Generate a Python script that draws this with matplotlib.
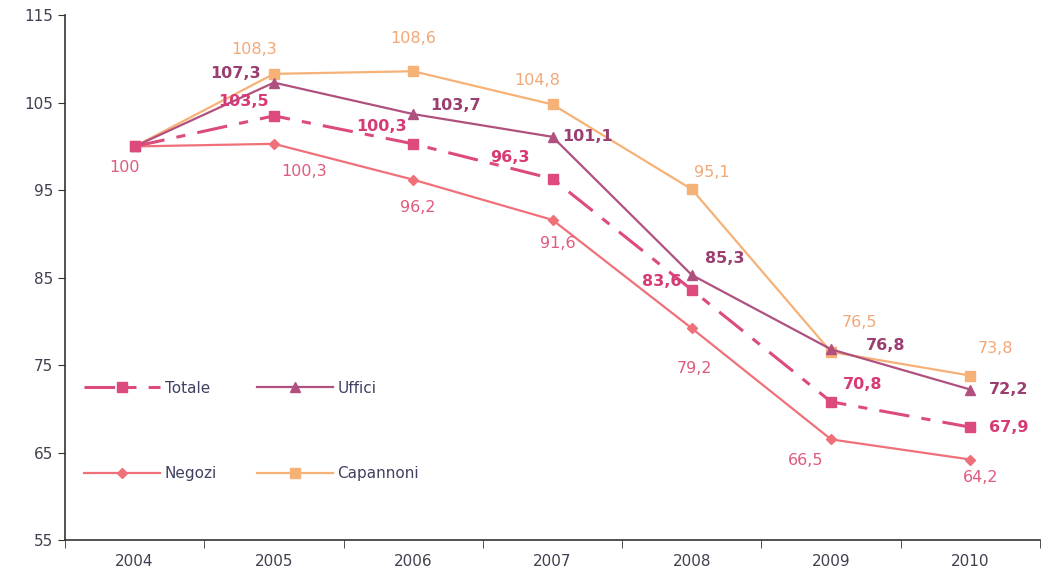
import matplotlib.pyplot as plt
import numpy as np

# Years and index values (2004 = 100)
years = ['2004', '2005', '2006', '2007', '2008', '2009', '2010']
totale = [100, 103.5, 100.3, 96.3, 83.6, 70.8, 67.9]
uffici = [100, 107.3, 103.7, 101.1, 85.3, 76.8, 72.2]
negozi = [100, 100.3, 96.2, 91.6, 79.2, 66.5, 64.2]
capannoni = [100, 108.3, 108.6, 104.8, 95.1, 76.5, 73.8]

# label offsets in pixels (None = no label)
off_totale = [None, (-30, 14), (-32, 17), (-43, 21), (-30, 8), (32, 17), (38, 0)]
off_uffici = [None, (-38, 9), (42, 9), (35, 0), (33, 17), (55, 4), (38, 0)]
off_negozi = [(-10, -21), (30, -28), (5, -28), (5, -24), (3, -40), (-25, -21), (10, -18)]
off_capannoni = [None, (-20, 24), (0, 33), (-15, 24), (20, 17), (28, 29), (25, 27)]

c_tot = '#dc4a7e'
c_uff = '#b0507e'
c_neg = '#f0707a'
c_cap = '#f6b276'

fig = plt.figure(figsize=(10.53, 5.83), dpi=100)
ax = fig.add_axes([0.0617, 0.0738, 0.926, 0.9])

x = np.arange(len(years))

ax.plot(x, negozi, color=c_neg, lw=1.6, marker='D', ms=5, label='Negozi', zorder=2)
ax.plot(x, capannoni, color=c_cap, lw=1.6, marker='s', ms=7, label='Capannoni', zorder=2)
ax.plot(x, uffici, color=c_uff, lw=1.6, marker='^', ms=7, label='Uffici', zorder=3)
ax.plot(x, totale, color=c_tot, lw=2.2, marker='s', ms=7, dashes=(10, 4, 3, 4),
        label='Totale', zorder=4)


def put_labels(vals, offs, color, weight):
    for i, (v, o) in enumerate(zip(vals, offs)):
        if o is None:
            continue
        ax.annotate(f'{v:g}'.replace('.', ','), (i, v), xytext=o,
                    textcoords='offset pixels', ha='center', va='center',
                    color=color, fontsize=11.5, fontweight=weight, zorder=5)


put_labels(negozi, off_negozi, '#e05a7c', 'normal')
put_labels(capannoni, off_capannoni, '#f2a878', 'normal')
put_labels(uffici, off_uffici, '#9a3f70', 'bold')
put_labels(totale, off_totale, '#d83a76', 'bold')

ax.set_xlim(-0.5, 6.5)
ax.set_ylim(55, 115)
ax.set_yticks(range(55, 116, 10))
ax.set_xticks(x)
ax.set_xticklabels(years)
ax.set_xticks(np.arange(-0.5, 7, 1), minor=True)
ax.tick_params(axis='x', which='major', length=0, pad=10, labelsize=11, labelcolor='#404050')
ax.tick_params(axis='x', which='minor', length=6, direction='out', color='#333333')
ax.tick_params(axis='y', length=5, direction='out', labelsize=11, labelcolor='#404050', color='#333333')

for s in ['top', 'right']:
    ax.spines[s].set_visible(False)
for s in ['left', 'bottom']:
    ax.spines[s].set_color('#333333')
    ax.spines[s].set_linewidth(1.2)

# legend: row 1 Totale / Uffici, row 2 Negozi / Capannoni
h, l = ax.get_legend_handles_labels()
order = [3, 0, 2, 1]
ax.legend([h[i] for i in order], [l[i] for i in order], ncol=2, frameon=False,
          loc='upper left', bbox_to_anchor=(0.005, 0.33), fontsize=11,
          labelspacing=4.6, handlelength=5, handletextpad=0.3, columnspacing=2.6,
          labelcolor='#404060')

fig.savefig('out.png', dpi=100)
